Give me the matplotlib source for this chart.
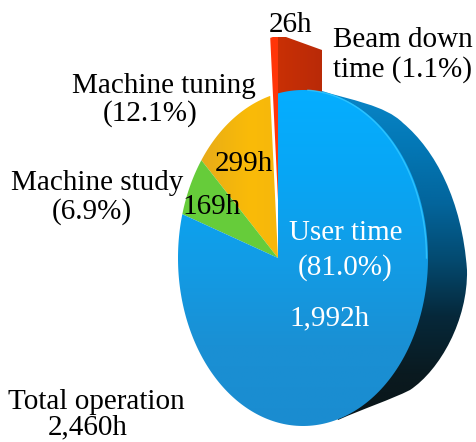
import numpy as np
import matplotlib
matplotlib.use('Agg')
import matplotlib.pyplot as plt
from matplotlib.colors import LinearSegmentedColormap
from matplotlib.patches import PathPatch, Polygon
from matplotlib.path import Path

plt.rcParams['font.family'] = ['Liberation Serif', 'DejaVu Serif']

names = ['User time', 'Machine study', 'Machine tuning', 'Beam down time']
hours = [1992, 169, 299, 26]
percents = [81.0, 6.9, 12.1, 1.1]
hour_labels = ['1,992h', '169h', '299h', '26h']
total_label = '2,460h'

W, H = 476, 442
apex = (278, 258)
lift = 58
red_depth = (44, 13)


def rim(frac):
    # clockwise from the top, pie seen in perspective
    t = 2 * np.pi * np.asarray(frac)
    u, v = np.sin(t), np.cos(t)
    d = 1 - 0.2 * u
    return np.column_stack([apex[0] + 120 * u / d, apex[1] - 164.6 * v / d])


def wedge(f0, f1, dy=0):
    n = max(int((f1 - f0) * 300), 4)
    pts = np.vstack([[apex], rim(np.linspace(f0, f1, n))])
    pts[:, 1] -= dy
    return pts


def gradient(ax, colors, clip, extent, zorder, horizontal=False):
    cmap = LinearSegmentedColormap.from_list('g', colors)
    g = np.linspace(0, 1, 256)
    g = g.reshape(1, -1) if horizontal else g.reshape(-1, 1)
    im = ax.imshow(g, cmap=cmap, extent=extent, aspect='auto', zorder=zorder,
                   interpolation='bilinear')
    im.set_clip_path(clip)


fig = plt.figure(figsize=(W / 100, H / 100), dpi=100)
ax = fig.add_axes([0, 0, 1, 1])

edges = np.concatenate([[0], np.cumsum(hours) / np.sum(hours)])

# thickness of the disc, behind the face
side_verts = [(322, 91), (350, 100), (385, 105), (403, 123),
              (435, 150), (462, 200), (467, 270),
              (468, 320), (440, 370), (410, 390),
              (390, 400), (365, 408), (338, 420),
              (300, 300), (300, 200), (322, 91)]
side_codes = [Path.MOVETO] + [Path.CURVE4] * 12 + [Path.LINETO] * 3
side = PathPatch(Path(side_verts, side_codes), fc='none', ec='none', zorder=1)
ax.add_patch(side)
gradient(ax, ['#0a86c8', '#0377b5', '#03659c', '#044a70', '#06283a', '#0a1a20', '#0a1417'],
         side, (280, 476, 430, 90), 1)

# raised red slice
top = wedge(edges[3], edges[4], lift)
top[:, 1] = np.maximum(top[:, 1], 37)
p0 = np.array([rim([1.0])[0][0], 37.0])
p1 = np.array([p0[0] + 8, 37.0])
p2 = p0 + red_depth
p3 = (p2[0], rim([0.0])[0][1] + 4)
red_side = Polygon([p0, p1, p2, p3, (p0[0], p3[1])], fc='none', ec='none', zorder=2)
ax.add_patch(red_side)
gradient(ax, ['#c93005', '#b92a08'], red_side, (p0[0], p2[0], H, 0), 2, horizontal=True)

# face slices
blue = Polygon(wedge(edges[0], edges[1]), fc='none', ec='none', zorder=5)
ax.add_patch(blue)
gradient(ax, ['#05aeff', '#08a6f5', '#129ce6', '#1a90d4', '#1a8cd0'], blue, (170, 440, 430, 90), 5)
ax.plot(*rim(np.linspace(0.04, 0.25, 60)).T - np.array([[1.5], [0]]), color='#35c8ff', lw=1.0,
        alpha=0.8, zorder=6)

green = Polygon(wedge(edges[1], edges[2]), fc='#66cc3a', ec='none', zorder=4)
ax.add_patch(green)
orange = Polygon(wedge(edges[2], edges[3]), fc='none', ec='none', zorder=3)
ax.add_patch(orange)
gradient(ax, ['#e5a81e', '#f0b310', '#fabb08', '#f6b70c'], orange, (195, 278, H, 0), 3, horizontal=True)
ax.add_patch(Polygon(top, fc='#ff3508', ec='none', zorder=4))

fs = 21
black = [
    (290, 25, hour_labels[3]),
    (333, 40, 'Beam down'),
    (333, 70, 'time (%.1f%%)' % percents[3]),
    (164, 86, names[2]),
    (150, 114, '(%.1f%%)' % percents[2]),
    (97, 183, names[1]),
    (92, 212, '(%.1f%%)' % percents[1]),
    (244, 164, hour_labels[2]),
    (212, 207, hour_labels[1]),
    (96, 402, 'Total operation'),
    (88, 427, total_label),
]
for x, y, s in black:
    ha = 'left' if x == 333 else 'center'
    ax.text(x, y, s, fontsize=fs, color='black', ha=ha, va='center', zorder=10)

white = [
    (346, 233, names[0]),
    (345, 268, '(%.1f%%)' % percents[0]),
    (330, 318, hour_labels[0]),
]
for x, y, s in white:
    ax.text(x, y, s, fontsize=fs, color='white', ha='center', va='center', zorder=10)

ax.set_xlim(0, W)
ax.set_ylim(H, 0)
ax.axis('off')
fig.savefig('out.png', dpi=100)
